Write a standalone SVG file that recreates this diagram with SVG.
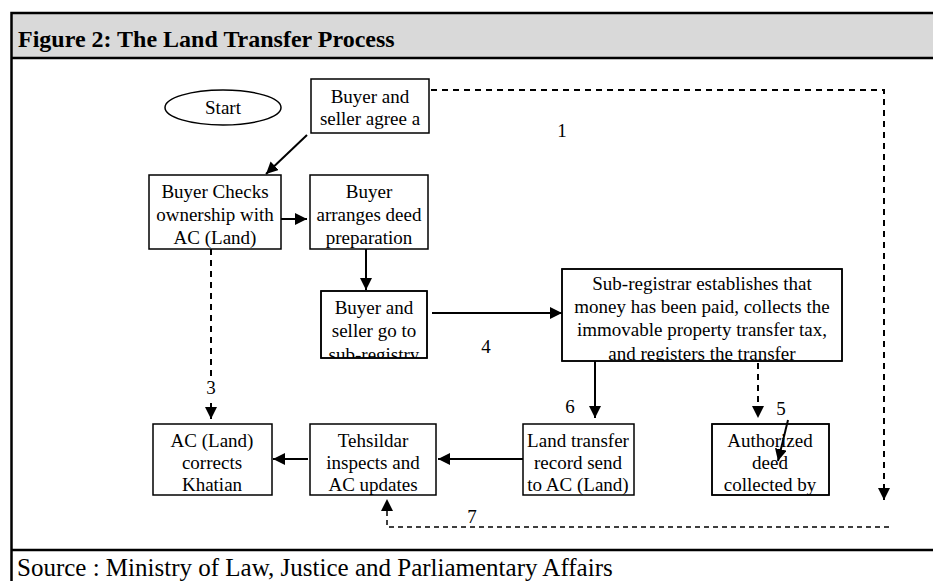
<svg xmlns="http://www.w3.org/2000/svg" width="933" height="581" viewBox="0 0 933 581">
<style>
.t{font-family:"Liberation Serif","Times New Roman",serif;font-size:19px;fill:#000;text-anchor:middle}
.box{fill:#fff;stroke:#000;stroke-width:1.5}
.ln{fill:none;stroke:#000;stroke-width:2}
.ds{fill:none;stroke:#000;stroke-width:2;stroke-dasharray:6 5}
.dt{fill:none;stroke:#000;stroke-width:1.5;stroke-dasharray:5 4}
</style>
<defs>
<marker id="ahb" viewBox="0 0 10 10" refX="10" refY="5" markerWidth="12" markerHeight="12" markerUnits="userSpaceOnUse" orient="auto">
<path d="M0,0 L10,5 L0,10 z" fill="#000"/>
</marker>
<clipPath id="c3"><rect x="321" y="291" width="106" height="67"/></clipPath>
<clipPath id="c4"><rect x="562" y="269" width="280" height="92"/></clipPath>
<clipPath id="c8"><rect x="712" y="424" width="117" height="71"/></clipPath>
</defs>
<rect width="933" height="581" fill="#fff"/>
<rect x="12" y="13" width="930" height="45" fill="#d9d9d9"/>
<g fill="none" stroke="#000" stroke-width="2.5">
<path d="M945,13 H11.5 V581"/>
<path d="M11.5,58 H945"/>
<path d="M11.5,550 H945"/>
</g>
<text x="18" y="47" style="font-family:'Liberation Serif','Times New Roman',serif;font-size:24px;font-weight:bold">Figure 2: The Land Transfer Process</text>
<text x="17" y="576" style="font-family:'Liberation Serif','Times New Roman',serif;font-size:25px">Source : Ministry of Law, Justice and Parliamentary Affairs</text>

<g id="connectors">
<path class="ln" d="M307,135 L266,174" marker-end="url(#ahb)"/>
<path class="ln" d="M281,219 L307,219" marker-end="url(#ahb)"/>
<path class="ln" d="M366,249 L366,290" marker-end="url(#ahb)"/>
<path class="ln" d="M432,313 L562,313" marker-end="url(#ahb)"/>
<path class="ln" d="M595,361 L595,418" marker-end="url(#ahb)"/>
<path class="ds" d="M758,363 L758,418" marker-end="url(#ahb)"/>
<path class="ln" d="M523,459 L438,459" marker-end="url(#ahb)"/>
<path class="ln" d="M308,459 L273,459" marker-end="url(#ahb)"/>
<path class="ds" d="M211,249 L211,379"/>
<path class="ds" d="M211,403 L211,419" marker-end="url(#ahb)"/>
<path class="ds" d="M431,90 H884 V500" marker-end="url(#ahb)"/>
<path class="dt" d="M889,527 H387 V499" marker-end="url(#ahb)"/>
<text class="t" x="562" y="137">1</text>
<text class="t" x="211" y="394">3</text>
<text class="t" x="486" y="353">4</text>
<text class="t" x="781" y="415">5</text>
<text class="t" x="570" y="413">6</text>
<text class="t" x="472" y="523">7</text>
</g>

<g id="start">
<ellipse cx="223" cy="107.5" rx="58" ry="17.5" fill="#fff" stroke="#000" stroke-width="1.5"/>
<text class="t" x="223" y="114">Start</text>
</g>
<g id="agree">
<rect class="box" x="311" y="79" width="118" height="54"/>
<text class="t" x="370" y="103">Buyer and</text>
<text class="t" x="370" y="125">seller agree a</text>
</g>
<g id="checks">
<rect class="box" x="149" y="175" width="132" height="74"/>
<text class="t" x="215" y="198">Buyer Checks</text>
<text class="t" x="215" y="221">ownership with</text>
<text class="t" x="215" y="244">AC (Land)</text>
</g>
<g id="arranges">
<rect class="box" x="310" y="175" width="118" height="74"/>
<text class="t" x="369" y="198">Buyer</text>
<text class="t" x="369" y="221">arranges deed</text>
<text class="t" x="369" y="244">preparation</text>
</g>
<g id="goto">
<rect class="box" x="321" y="291" width="106" height="67"/>
<g clip-path="url(#c3)">
<text class="t" x="374" y="314">Buyer and</text>
<text class="t" x="374" y="337">seller go to</text>
<text class="t" x="374" y="361">sub-registry</text>
</g>
<rect x="321" y="291" width="106" height="67" fill="none" stroke="#000" stroke-width="1.5"/>
</g>
<g id="subregistrar">
<rect class="box" x="562" y="269" width="280" height="92"/>
<g clip-path="url(#c4)">
<text class="t" x="702" y="290">Sub-registrar establishes that</text>
<text class="t" x="702" y="313">money has been paid, collects the</text>
<text class="t" x="702" y="336">immovable property transfer tax,</text>
<text class="t" x="702" y="360">and registers the transfer</text>
</g>
<rect x="562" y="269" width="280" height="92" fill="none" stroke="#000" stroke-width="1.5"/>
</g>
<g id="khatian">
<rect class="box" x="153" y="424" width="119" height="71"/>
<text class="t" x="212" y="447">AC (Land)</text>
<text class="t" x="212" y="469">corrects</text>
<text class="t" x="212" y="491">Khatian</text>
</g>
<g id="tehsildar">
<rect class="box" x="310" y="424" width="126" height="71"/>
<text class="t" x="373" y="447">Tehsildar</text>
<text class="t" x="373" y="469">inspects and</text>
<text class="t" x="373" y="491">AC updates</text>
</g>
<g id="record">
<rect class="box" x="523" y="424" width="111" height="71"/>
<text class="t" x="578" y="447">Land transfer</text>
<text class="t" x="578" y="469">record send</text>
<text class="t" x="578" y="491">to AC (Land)</text>
</g>
<g id="authorized">
<rect class="box" x="712" y="424" width="117" height="71"/>
<g clip-path="url(#c8)">
<text class="t" x="770" y="447">Authorized</text>
<text class="t" x="770" y="469">deed</text>
<text class="t" x="770" y="491">collected by</text>
</g>
<rect x="712" y="424" width="117" height="71" fill="none" stroke="#000" stroke-width="1.5"/>
</g>
<path class="ln" d="M788,420 L778,461" marker-end="url(#ahb)"/>
</svg>
